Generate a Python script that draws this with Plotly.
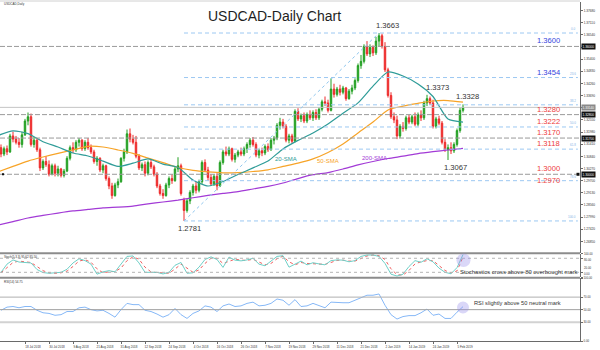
import pandas as pd
import plotly.graph_objects as go

# ---------------- data ----------------
DATES = [d.strftime("%Y-%m-%d") for d in pd.bdate_range("2018-07-05", "2019-02-07")]

OPEN = [1.3140, 1.3125, 1.3095, 1.3120, 1.3105, 1.3180, 1.3165, 1.3150, 1.3140, 1.3185,
        1.3250, 1.3270, 1.3140, 1.3160, 1.3115, 1.3030, 1.3060, 1.3045, 1.3000, 1.3040,
        1.3005, 1.3025, 1.2995, 1.3015, 1.3075, 1.3125, 1.3115, 1.3150, 1.3160, 1.3120,
        1.3150, 1.3125, 1.3105, 1.3060, 1.3075, 1.3020, 1.3040, 1.2980, 1.2945, 1.2900,
        1.2950, 1.2965, 1.3075, 1.3105, 1.3190, 1.3165, 1.3150, 1.3085, 1.3030, 1.3045,
        1.3005, 1.3055, 1.3035, 1.3000, 1.2945, 1.2910, 1.2900, 1.2950, 1.2980, 1.2970,
        1.3025, 1.3040, 1.2880, 1.2830, 1.2875, 1.2915, 1.2945, 1.2925, 1.2965, 1.3055,
        1.3020, 1.2985, 1.2955, 1.2990, 1.2945, 1.3055, 1.3105, 1.3095, 1.3120, 1.3070,
        1.3090, 1.3105, 1.3095, 1.3120, 1.3140, 1.3160, 1.3140, 1.3090, 1.3110, 1.3100,
        1.3130, 1.3115, 1.3160, 1.3170, 1.3230, 1.3245, 1.3225, 1.3160, 1.3180, 1.3155,
        1.3295, 1.3260, 1.3275, 1.3250, 1.3280, 1.3265, 1.3290, 1.3265, 1.3305, 1.3340,
        1.3335, 1.3300, 1.3400, 1.3375, 1.3400, 1.3385, 1.3405, 1.3355, 1.3390, 1.3405,
        1.3440, 1.3510, 1.3530, 1.3600, 1.3565, 1.3595, 1.3570, 1.3625, 1.3650, 1.3600,
        1.3490, 1.3370, 1.3270, 1.3255, 1.3180, 1.3225, 1.3215, 1.3265, 1.3245, 1.3270,
        1.3235, 1.3280, 1.3265, 1.3335, 1.3355, 1.3335, 1.3225, 1.3260, 1.3240, 1.3150,
        1.3115, 1.3125, 1.3110, 1.3140, 1.3205, 1.3300]
HIGH = [1.3160, 1.3140, 1.3130, 1.3135, 1.3190, 1.3200, 1.3180, 1.3170, 1.3200, 1.3260,
        1.3290, 1.3285, 1.3175, 1.3170, 1.3125, 1.3070, 1.3085, 1.3065, 1.3050, 1.3050,
        1.3040, 1.3030, 1.3025, 1.3085, 1.3135, 1.3150, 1.3160, 1.3170, 1.3165, 1.3160,
        1.3170, 1.3140, 1.3115, 1.3085, 1.3080, 1.3050, 1.3045, 1.2990, 1.2960, 1.2960,
        1.2980, 1.3080, 1.3120, 1.3210, 1.3215, 1.3185, 1.3180, 1.3095, 1.3055, 1.3060,
        1.3065, 1.3070, 1.3045, 1.3010, 1.2955, 1.2930, 1.2960, 1.2990, 1.3000, 1.3035,
        1.3080, 1.3050, 1.2890, 1.2885, 1.2925, 1.2955, 1.2965, 1.2975, 1.3065, 1.3070,
        1.3035, 1.3000, 1.3000, 1.3005, 1.3065, 1.3115, 1.3130, 1.3130, 1.3125, 1.3100,
        1.3115, 1.3125, 1.3130, 1.3150, 1.3170, 1.3175, 1.3150, 1.3120, 1.3125, 1.3140,
        1.3145, 1.3170, 1.3180, 1.3240, 1.3265, 1.3260, 1.3235, 1.3190, 1.3190, 1.3305,
        1.3310, 1.3285, 1.3290, 1.3290, 1.3300, 1.3300, 1.3305, 1.3315, 1.3350, 1.3365,
        1.3350, 1.3450, 1.3425, 1.3410, 1.3420, 1.3415, 1.3410, 1.3400, 1.3420, 1.3450,
        1.3520, 1.3560, 1.3610, 1.3625, 1.3610, 1.3605, 1.3645, 1.3663, 1.3660, 1.3620,
        1.3500, 1.3385, 1.3290, 1.3275, 1.3235, 1.3245, 1.3275, 1.3280, 1.3280, 1.3290,
        1.3290, 1.3300, 1.3345, 1.3373, 1.3365, 1.3350, 1.3270, 1.3275, 1.3250, 1.3165,
        1.3140, 1.3150, 1.3150, 1.3215, 1.3315, 1.3328]
LOW = [1.3110, 1.3080, 1.3085, 1.3090, 1.3100, 1.3150, 1.3140, 1.3125, 1.3125, 1.3180,
       1.3230, 1.3130, 1.3125, 1.3105, 1.3015, 1.3020, 1.3035, 1.2990, 1.2995, 1.2990,
       1.2990, 1.2985, 1.2985, 1.3010, 1.3065, 1.3100, 1.3105, 1.3130, 1.3110, 1.3110,
       1.3115, 1.3095, 1.3050, 1.3040, 1.3010, 1.3005, 1.2970, 1.2930, 1.2885, 1.2895,
       1.2935, 1.2960, 1.3060, 1.3095, 1.3150, 1.3140, 1.3075, 1.3020, 1.3015, 1.2990,
       1.2995, 1.3025, 1.2990, 1.2935, 1.2900, 1.2885, 1.2895, 1.2935, 1.2955, 1.2965,
       1.3010, 1.2900, 1.2781, 1.2820, 1.2860, 1.2900, 1.2910, 1.2915, 1.2955, 1.3010,
       1.2970, 1.2945, 1.2945, 1.2925, 1.2940, 1.3045, 1.3085, 1.3085, 1.3060, 1.3055,
       1.3080, 1.3085, 1.3085, 1.3100, 1.3125, 1.3130, 1.3080, 1.3075, 1.3085, 1.3090,
       1.3105, 1.3110, 1.3140, 1.3160, 1.3210, 1.3215, 1.3150, 1.3145, 1.3145, 1.3150,
       1.3250, 1.3245, 1.3240, 1.3240, 1.3255, 1.3250, 1.3255, 1.3255, 1.3295, 1.3320,
       1.3290, 1.3295, 1.3360, 1.3365, 1.3370, 1.3375, 1.3345, 1.3350, 1.3375, 1.3395,
       1.3430, 1.3495, 1.3520, 1.3555, 1.3550, 1.3555, 1.3560, 1.3600, 1.3590, 1.3480,
       1.3360, 1.3260, 1.3240, 1.3165, 1.3170, 1.3200, 1.3205, 1.3235, 1.3235, 1.3225,
       1.3225, 1.3250, 1.3255, 1.3320, 1.3325, 1.3215, 1.3215, 1.3230, 1.3140, 1.3105,
       1.3067, 1.3095, 1.3100, 1.3130, 1.3195, 1.3290]
CLOSE = [1.3125, 1.3095, 1.3120, 1.3105, 1.3180, 1.3165, 1.3150, 1.3140, 1.3185, 1.3250,
         1.3270, 1.3140, 1.3160, 1.3115, 1.3030, 1.3060, 1.3045, 1.3000, 1.3040, 1.3005,
         1.3025, 1.2995, 1.3015, 1.3075, 1.3125, 1.3115, 1.3150, 1.3160, 1.3120, 1.3150,
         1.3125, 1.3105, 1.3060, 1.3075, 1.3020, 1.3040, 1.2980, 1.2945, 1.2900, 1.2950,
         1.2965, 1.3075, 1.3105, 1.3190, 1.3165, 1.3150, 1.3085, 1.3030, 1.3045, 1.3005,
         1.3055, 1.3035, 1.3000, 1.2945, 1.2910, 1.2900, 1.2950, 1.2980, 1.2970, 1.3025,
         1.3040, 1.2910, 1.2830, 1.2875, 1.2915, 1.2945, 1.2925, 1.2965, 1.3055, 1.3020,
         1.2985, 1.2955, 1.2990, 1.2945, 1.3055, 1.3105, 1.3095, 1.3120, 1.3070, 1.3090,
         1.3105, 1.3095, 1.3120, 1.3140, 1.3160, 1.3140, 1.3090, 1.3110, 1.3100, 1.3130,
         1.3115, 1.3160, 1.3170, 1.3230, 1.3245, 1.3225, 1.3160, 1.3180, 1.3155, 1.3295,
         1.3260, 1.3275, 1.3250, 1.3280, 1.3265, 1.3290, 1.3265, 1.3305, 1.3340, 1.3335,
         1.3300, 1.3400, 1.3375, 1.3400, 1.3385, 1.3405, 1.3355, 1.3390, 1.3405, 1.3440,
         1.3510, 1.3530, 1.3600, 1.3565, 1.3595, 1.3570, 1.3625, 1.3650, 1.3600, 1.3490,
         1.3370, 1.3270, 1.3255, 1.3180, 1.3225, 1.3215, 1.3265, 1.3245, 1.3270, 1.3235,
         1.3280, 1.3265, 1.3335, 1.3355, 1.3335, 1.3225, 1.3260, 1.3240, 1.3150, 1.3115,
         1.3125, 1.3110, 1.3140, 1.3205, 1.3300, 1.3314]

# moving averages, one reading every 5 sessions
SMA_STEP = 5
SMA20 = [1.3182, 1.3204, 1.3191, 1.3153, 1.3128, 1.3100, 1.3086, 1.3062, 1.3037, 1.3052,
         1.3072, 1.3048, 1.3032, 1.2973, 1.2945, 1.2966, 1.2999, 1.3030, 1.3062, 1.3119,
         1.3159, 1.3194, 1.3236, 1.3286, 1.3335, 1.3414, 1.3480, 1.3461, 1.3424, 1.3365,
         1.3259, 1.3245]
SMA50 = [1.3011, 1.3037, 1.3062, 1.3081, 1.3098, 1.3114, 1.3131, 1.3128, 1.3114, 1.3098,
         1.3076, 1.3055, 1.3032, 1.3018, 1.3011, 1.3007, 1.3008, 1.3013, 1.3021, 1.3037,
         1.3052, 1.3072, 1.3102, 1.3142, 1.3194, 1.3245, 1.3302, 1.3320, 1.3333, 1.3344,
         1.3346, 1.3339]
SMA200 = [1.2762, 1.2778, 1.2795, 1.2807, 1.2818, 1.2828, 1.2835, 1.2842, 1.2846, 1.2851,
          1.2861, 1.2870, 1.2879, 1.2890, 1.2901, 1.2910, 1.2919, 1.2931, 1.2943, 1.2959,
          1.2980, 1.2998, 1.3008, 1.3025, 1.3044, 1.3060, 1.3074, 1.3085, 1.3097, 1.3106,
          1.3114, 1.3122]

# oscillators, one reading every other session (starting with the 2nd session)
STOCH_K = [20, 55, 73, 64, 62, 60, 32, 19, 16, 17, 20, 33, 60, 78, 70, 55, 12, 22, 27, 22,
           55, 88, 90, 60, 20, 20, 20, 13, 20, 50, 62, 16, 18, 42, 75, 86, 75, 41, 85, 72,
           69, 73, 80, 55, 48, 68, 88, 91, 42, 55, 68, 52, 61, 56, 52, 70, 73, 72, 65, 70,
           88, 94, 94, 88, 58, 12, 4, 12, 45, 70, 63, 78, 65, 38, 20, 14, 40, 95.62]
STOCH_D = [18, 38, 62, 68, 64, 62, 45, 27, 18, 16, 18, 25, 45, 68, 74, 63, 35, 18, 22, 24,
           38, 70, 86, 76, 42, 22, 19, 16, 16, 34, 55, 38, 20, 30, 58, 80, 80, 58, 68, 76,
           72, 71, 76, 65, 52, 58, 78, 89, 65, 52, 62, 58, 57, 58, 54, 62, 71, 72, 68, 68,
           80, 90, 94, 91, 75, 35, 10, 8, 28, 56, 65, 70, 70, 50, 28, 17, 26, 85.50]
RSI = [49, 54, 55, 53, 55, 55, 49, 45, 44, 41, 42, 47, 47, 53, 54, 50, 48, 49, 44, 38,
       50, 60, 58, 58, 49, 47, 43, 38, 42, 52, 42, 36, 44, 48, 56, 54, 47, 56, 59, 55,
       56, 60, 62, 56, 57, 60, 67, 65, 57, 66, 55, 56, 60, 56, 53, 62, 61, 61, 61, 65,
       70, 73, 73, 75, 57, 42, 35, 39, 40.5, 40.5, 45, 51, 41, 43, 36, 36, 46, 54.75]

# horizontal support / resistance levels and Fibonacci retracement
KEY_LEVELS = [1.3600, 1.3280, 1.3170, 1.3000]
FIB_LEVELS = [1.3663, 1.3454, 1.3326, 1.3222, 1.3118, 1.2970, 1.2781]
FIB_NAMES = ["0.0", "23.6", "38.2", "50.0", "61.8", "78.6", "100.0"]
LEVEL_TAGS = [(1.3600, "#3344dd"), (1.3454, "#3344dd"), (1.3280, "#ee3b3b"),
              (1.3222, "#ee3b3b"), (1.3170, "#ee3b3b"), (1.3118, "#ee3b3b"),
              (1.3000, "#ee3b3b"), (1.2970, "#ee3b3b")]

TICK_DATES = ["2018-07-05", "2018-07-18", "2018-07-30", "2018-08-09", "2018-08-21",
              "2018-08-31", "2018-09-12", "2018-09-24", "2018-10-04", "2018-10-16",
              "2018-10-26", "2018-11-07", "2018-11-19", "2018-11-29", "2018-12-11",
              "2018-12-21", "2019-01-02", "2019-01-14", "2019-01-24", "2019-02-05"]
PRICE_TICKS = [1.3768, 1.3711, 1.3654, 1.3597, 1.3540, 1.3483, 1.3426, 1.3369, 1.3312,
               1.3255, 1.3198, 1.3141, 1.3084, 1.3027, 1.2970, 1.2913, 1.2856, 1.2799,
               1.2742, 1.2685]
STOCH_TICKS = [100, 80, 20, 0]
RSI_TICKS = [100, 70, 50, 30, 0]

# ---------------- figure ----------------
FONT = "Arial, Liberation Sans, sans-serif"
UP, DOWN = "#23a023", "#ee2b2b"
TEAL, ORANGE, PURPLE = "#2f9c98", "#f7a428", "#a23ad6"
FIB_BLUE = "#9cc8f2"
W_PLOT, Y_BOTTOM, Y_TOP, H_PLOT = 580.0, 341.0, 2.0, 339.0


def fx(px):
    return px / W_PLOT


def fy(py):
    return (Y_BOTTOM - py) / H_PLOT


sma_x = DATES[::SMA_STEP]
osc_x = DATES[1::2]
i_low = LOW.index(min(LOW))
i_high = HIGH.index(max(HIGH))
last = len(DATES) - 1

fig = go.Figure()
fig.add_trace(go.Candlestick(
    x=DATES, open=OPEN, high=HIGH, low=LOW, close=CLOSE,
    increasing=dict(line=dict(color=UP, width=1), fillcolor=UP),
    decreasing=dict(line=dict(color=DOWN, width=1), fillcolor=DOWN),
    whiskerwidth=0, hoverinfo="skip", showlegend=False, xaxis="x", yaxis="y"))
for vals, col in ((SMA200, PURPLE), (SMA50, ORANGE), (SMA20, TEAL)):
    fig.add_trace(go.Scatter(x=sma_x, y=vals, mode="lines", hoverinfo="skip",
                             line=dict(color=col, width=1.2, shape="spline", smoothing=0.6),
                             showlegend=False, xaxis="x", yaxis="y"))

fig.add_trace(go.Scatter(x=osc_x, y=STOCH_D, mode="lines", hoverinfo="skip",
                         line=dict(color="#f06060", width=1, dash="dot"),
                         showlegend=False, xaxis="x", yaxis="y2"))
fig.add_trace(go.Scatter(x=osc_x, y=STOCH_K, mode="lines", hoverinfo="skip",
                         line=dict(color="#6fd0c8", width=1),
                         showlegend=False, xaxis="x", yaxis="y2"))
fig.add_trace(go.Scatter(x=osc_x, y=RSI, mode="lines", hoverinfo="skip",
                         line=dict(color="#86b8f7", width=1),
                         showlegend=False, xaxis="x", yaxis="y3"))

shapes = []
# panel separators
for py in (253.3, 277.7):
    shapes.append(dict(type="line", xref="paper", yref="paper", x0=0, x1=1,
                       y0=fy(py), y1=fy(py), line=dict(color="#8c8c8c", width=2)))
shapes.append(dict(type="line", xref="paper", yref="paper", x0=0, x1=1,
                   y0=fy(1.0), y1=fy(1.0), line=dict(color="#d0d0d0", width=1)))
# last price line
shapes.append(dict(type="line", xref="paper", yref="y", x0=0, x1=1,
                   y0=CLOSE[last], y1=CLOSE[last], line=dict(color="#c4c4c4", width=1)))
# support / resistance
for lv in KEY_LEVELS:
    shapes.append(dict(type="line", xref="paper", yref="y", x0=0, x1=1, y0=lv, y1=lv,
                       line=dict(color="#9a9a9a", width=1, dash="5px,2px")))
# Fibonacci retracement
x_fib_end = 193.3
for lv in FIB_LEVELS:
    shapes.append(dict(type="line", xref="x", yref="y", x0=DATES[i_low], x1=x_fib_end,
                       y0=lv, y1=lv, line=dict(color=FIB_BLUE, width=1, dash="4px,3px")))
shapes.append(dict(type="line", xref="x", yref="y", x0=DATES[i_low], y0=LOW[i_low],
                   x1=DATES[i_high], y1=HIGH[i_high],
                   line=dict(color="#8fc6ee", width=1, dash="dot")))
# 1.3000 markers at the edges
shapes.append(dict(type="rect", xref="paper", yref="y", x0=fx(2), x1=fx(4),
                   y0=1.3000 - 0.0005, y1=1.3000 + 0.0005, fillcolor="#111", line=dict(width=0)))
shapes.append(dict(type="rect", xref="paper", yref="y", x0=fx(576.5), x1=fx(579.5),
                   y0=1.3000 - 0.0007, y1=1.3000 + 0.0007, fillcolor="#111", line=dict(width=0)))
# oscillator levels
for lv in (80, 20):
    shapes.append(dict(type="line", xref="paper", yref="y2", x0=0, x1=1, y0=lv, y1=lv,
                       line=dict(color="#b5b5b5", width=1, dash="dot")))
for lv, col, w in ((70, "#b0b0b0", 1), (50, "#a0a0a0", 1), (30, "#d2d2d2", 2)):
    shapes.append(dict(type="line", xref="paper", yref="y3", x0=0, x1=1, y0=lv, y1=lv,
                       line=dict(color=col, width=w)))
# highlight circles
shapes.append(dict(type="circle", xref="paper", yref="paper", x0=fx(456.5), x1=fx(470.5),
                   y0=fy(267), y1=fy(253.5), fillcolor="rgba(150,140,235,0.35)",
                   line=dict(width=0)))
shapes.append(dict(type="circle", xref="paper", yref="paper", x0=fx(457), x1=fx(469),
                   y0=fy(313.5), y1=fy(301.5), fillcolor="rgba(150,140,235,0.35)",
                   line=dict(width=0)))

ann = []


def note(x, y, text, size, color="#333", xanchor="left", yanchor="middle", **kw):
    ann.append(dict(x=x, y=y, text=text, showarrow=False, xanchor=xanchor, yanchor=yanchor,
                    font=dict(family=FONT, size=size, color=color), **kw))


note(fx(206), fy(16), "USDCAD-Daily Chart", 14, color="#1e1e1e", xref="paper", yref="paper")
note(fx(2), fy(4), "USDCAD,Daily", 3, xref="paper", yref="paper")
note(fx(2), fy(257), f"Stoch(5,3,3) {STOCH_K[-1]:.2f} {STOCH_D[-1]:.2f}", 3,
     xref="paper", yref="paper")
note(fx(2), fy(281.5), f"RSI(14) {RSI[-1]:.2f}", 3, xref="paper", yref="paper")
note(fx(458), fy(272), "Stochastics cross above 80 overbought mark", 5.9,
     xref="paper", yref="paper")
note(fx(472), fy(303), "RSI slightly above 50 neutral mark", 5.7, xref="paper", yref="paper")

# swing highs / lows
for idx, val, dx, anchor, dy in ((i_high, HIGH[i_high], 8, "bottom", 1),
                                 (143, HIGH[143], 10, "bottom", 1),
                                 (last, HIGH[last], 4, "bottom", 1),
                                 (150, LOW[150], 7, "top", -1),
                                 (i_low, LOW[i_low], 5, "top", -1)):
    note(DATES[idx], val, f"{val:.4f}", 7.6, color="#333", xanchor="center",
         yanchor=anchor, xref="x", yref="y", xshift=dx, yshift=dy)

# level tags
for lv, col in LEVEL_TAGS:
    anchor = "middle" if lv == 1.2970 else "bottom"
    note(188, lv, f"{lv:.4f}", 7.6, color=col, xanchor="right", yanchor=anchor,
         xref="x", yref="y", yshift=-1 if anchor == "bottom" else 0)
for lv, name in zip(FIB_LEVELS, FIB_NAMES):
    note(x_fib_end, lv, name, 3, color="#7fb2e6", xanchor="right", yanchor="bottom",
         xref="x", yref="y")

# moving-average names
note(fx(286), fy(159), "20-SMA", 6, color=TEAL, xanchor="center", xref="paper", yref="paper")
note(fx(327.5), fy(160.5), "50-SMA", 6, color=ORANGE, xanchor="center",
     xref="paper", yref="paper")
note(fx(374.5), fy(158), "200-SMA", 6, color=PURPLE, xanchor="center",
     xref="paper", yref="paper")

# price-axis boxes
for lv, bg in [(lv, "#111111") for lv in KEY_LEVELS] + [(CLOSE[last], "#8a8a8a")]:
    ann.append(dict(x=1, y=lv, xref="paper", yref="y", text=f"{lv:.5f}", showarrow=False,
                    xanchor="left", yanchor="middle", bgcolor=bg, borderpad=0.6, xshift=1,
                    font=dict(family=FONT, size=3.2, color="white")))

# stochastic scale labels, spread slightly so they stay legible in the narrow panel
STOCH_LABEL_SHIFT = {100: 0, 80: -2, 20: 4, 0: 3.5}
for v in STOCH_TICKS:
    ann.append(dict(x=1, y=v, xref="paper", yref="y2", text=f"{v:.2f}", showarrow=False,
                    xanchor="left", yanchor="middle", xshift=3, yshift=STOCH_LABEL_SHIFT[v],
                    borderpad=0, font=dict(family=FONT, size=2.8, color="#333")))

tick_text = []
for d in TICK_DATES:
    t = pd.Timestamp(d)
    tick_text.append(f"{t.day} {t.strftime('%b %Y')}")

axis_line = dict(showline=True, linecolor="#6a6a6a", linewidth=1, showgrid=False,
                 zeroline=False, ticks="outside", ticklen=2, tickcolor="#6a6a6a")

fig.update_layout(
    width=600, height=350, margin=dict(l=0, r=20, t=2, b=9),
    paper_bgcolor="white", plot_bgcolor="white", showlegend=False,
    font=dict(family=FONT, color="#333"),
    xaxis=dict(type="category", categoryorder="array", categoryarray=DATES,
               range=[0.667, 194.0], anchor="y3", tickvals=TICK_DATES, ticktext=tick_text,
               tickangle=0, tickfont=dict(size=3, color="#333"), ticklabelshift=8,
               rangeslider=dict(visible=False), **axis_line),
    yaxis=dict(domain=[fy(253), 1.0], range=[1.26306, 1.38085], side="right", anchor="x",
               tickvals=PRICE_TICKS, ticktext=[f"{v:.5f}" for v in PRICE_TICKS],
               tickfont=dict(size=3.2, color="#333"), **axis_line),
    yaxis2=dict(domain=[fy(277), fy(253.6)], range=[0, 100], side="right", anchor="x",
                tickvals=STOCH_TICKS, showticklabels=False, **axis_line),
    yaxis3=dict(domain=[0.0, fy(278.3)], range=[0, 100], side="right", anchor="x",
                tickvals=RSI_TICKS, ticktext=[f"{v:.2f}" for v in RSI_TICKS],
                tickfont=dict(size=2.8, color="#333"), **axis_line),
    shapes=shapes, annotations=ann,
)

fig.write_html("out.html")
